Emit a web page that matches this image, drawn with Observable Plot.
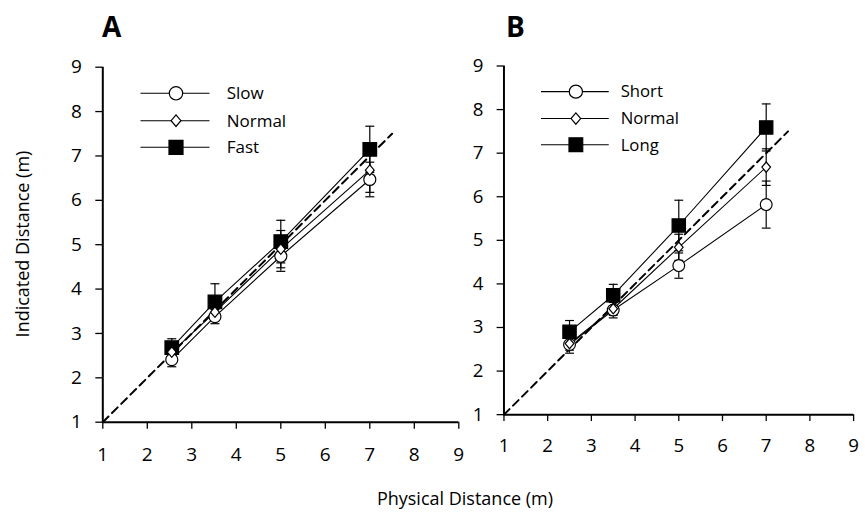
<!DOCTYPE html>
<html><head><meta charset="utf-8">
<script src="https://cdn.jsdelivr.net/npm/d3@7"></script>
<script src="https://cdn.jsdelivr.net/npm/@observablehq/plot@0.6"></script>
<style>
body{margin:0;background:#fff;overflow:hidden;font-family:"Open Sans",sans-serif;}
#chart{position:relative;width:865px;height:514px;overflow:hidden;}
.panel{position:absolute;top:0;}
.plabel{position:absolute;top:8px;font-weight:bold;font-size:28px;font-family:"Open Sans",sans-serif;color:#000;line-height:36px;}
.ylab{position:absolute;left:22px;top:244px;transform:translate(-50%,-50%) rotate(-90deg);white-space:nowrap;font-size:18px;color:#000;}
.xlab{position:absolute;left:465px;top:498px;transform:translate(-50%,-50%);white-space:nowrap;font-size:18px;color:#000;}
</style></head>
<body><div id="chart"></div>
<script>
// ---- data ----
const ticks = [1, 2, 3, 4, 5, 6, 7, 8, 9];
const identityLine = [1, 7.5];

// Panel A (speed)
const namesA = ["Slow", "Normal", "Fast"];
const xA = [2.55, 3.52, 5, 7];
const slowMean = [2.41, 3.38, 4.74, 6.47];
const slowSem = [0.16, 0.16, 0.34, 0.39];
const normalAMean = [2.58, 3.48, 4.90, 6.68];
const normalASem = [0.15, 0.15, 0.42, 0.50];
const fastMean = [2.68, 3.71, 5.07, 7.15];
const fastSem = [0.20, 0.41, 0.48, 0.52];

// Panel B (duration)
const namesB = ["Short", "Normal", "Long"];
const xB = [2.5, 3.5, 5, 7];
const shortMean = [2.61, 3.40, 4.42, 5.82];
const shortSem = [0.20, 0.18, 0.29, 0.54];
const normalBMean = [2.63, 3.43, 4.84, 6.68];
const normalBSem = [0.15, 0.15, 0.30, 0.42];
const longMean = [2.90, 3.74, 5.34, 7.59];
const longSem = [0.26, 0.25, 0.58, 0.54];

function rowsOf(names, xs, means, sems) {
  const out = [];
  names.forEach((n, i) => xs.forEach((x, j) => out.push({series: n, idx: i, x, y: means[i][j], sem: sems[i][j]})));
  return out;
}
const rowsA = rowsOf(namesA, xA, [slowMean, normalAMean, fastMean], [slowSem, normalASem, fastSem]);
const rowsB = rowsOf(namesB, xB, [shortMean, normalBMean, longMean], [shortSem, normalBSem, longSem]);

// ---- symbols ----
const capSym = {draw(ctx, size){const r = Math.sqrt(size/Math.PI); ctx.moveTo(-r,0); ctx.lineTo(r,0);}};
const circleSym = {draw(ctx, size){const r = Math.sqrt(size/Math.PI); ctx.moveTo(r,0); ctx.arc(0,0,r,0,2*Math.PI);}};
const diamondSym = {draw(ctx, size){const r = Math.sqrt(size/Math.PI); const w = r*0.85; ctx.moveTo(0,-r); ctx.lineTo(w,0); ctx.lineTo(0,r); ctx.lineTo(-w,0); ctx.closePath();}};
const squareSym = {draw(ctx, size){const r = Math.sqrt(size/Math.PI); ctx.rect(-r,-r,2*r,2*r);}};
const styles = [
  {sym: circleSym, r: 6, fill: "white"},
  {sym: diamondSym, r: 5.2, fill: "white"},
  {sym: squareSym, r: 6.8, fill: "black"}
];
const legendStyles = [
  {sym: circleSym, r: 6.7, fill: "white"},
  {sym: diamondSym, r: 5.8, fill: "white"},
  {sym: squareSym, r: 7, fill: "black"}
];

function panel(rows, names, left, textX) {
  const dotOrder = [2, 0, 1];
  const svg = Plot.plot({
    width: 470, height: 460,
    marginLeft: 102.3, marginRight: 11.7, marginTop: 66.7, marginBottom: 38.3,
    style: {fontFamily: "'Open Sans', sans-serif", fontSize: "19px", color: "#000", background: "transparent", overflow: "visible"},
    x: {domain: [1, 9]},
    y: {domain: [1, 9]},
    marks: [
      Plot.axisX({ticks, tickSize: 7, tickPadding: 18, label: null, fontSize: 19, strokeWidth: 1.3}),
      Plot.axisY({ticks, tickSize: 7, tickPadding: 14, label: null, fontSize: 19, strokeWidth: 1.3}),
      Plot.ruleX([1], {stroke: "black", strokeWidth: 2}),
      Plot.ruleY([1], {stroke: "black", strokeWidth: 2}),
      Plot.line(identityLine, {x: d => d, y: d => d, stroke: "black", strokeWidth: 2, strokeDasharray: "8,5"}),
      Plot.line(rows, {x: "x", y: "y", z: "series", stroke: "black", strokeWidth: 1.1}),
      Plot.ruleX(rows, {x: "x", y1: d => d.y - d.sem, y2: d => d.y + d.sem, stroke: "black", strokeWidth: 1.2}),
      Plot.dot(rows, {x: "x", y: d => d.y + d.sem, symbol: capSym, r: 4.5, stroke: "black", strokeWidth: 1.2, fill: "none"}),
      Plot.dot(rows, {x: "x", y: d => d.y - d.sem, symbol: capSym, r: 4.5, stroke: "black", strokeWidth: 1.2, fill: "none"}),
      ...dotOrder.map(i => Plot.dot(rows.filter(d => d.idx === i), {x: "x", y: "y", symbol: styles[i].sym, r: styles[i].r, fill: styles[i].fill, stroke: "black", strokeWidth: 1.2}))
    ]
  });
  // legend
  const g = d3.select(svg).append("g").attr("text-anchor", "start");
  const rowY = [93.3, 120.7, 147.3];
  names.forEach((n, i) => {
    const y = rowY[i];
    g.append("line").attr("x1", 140.5).attr("x2", 209.5).attr("y1", y).attr("y2", y).attr("stroke", "black").attr("stroke-width", 1.1);
    const p = d3.path(); legendStyles[i].sym.draw(p, Math.PI * legendStyles[i].r ** 2);
    g.append("path").attr("d", p.toString()).attr("transform", `translate(176,${y})`).attr("fill", legendStyles[i].fill).attr("stroke", "black").attr("stroke-width", 1.2);
    g.append("text").attr("x", textX).attr("y", y).attr("dy", "0.35em").attr("text-anchor", "start").attr("font-size", 17).attr("fill", "black").text(n);
  });
  const div = document.createElement("div");
  div.className = "panel";
  div.style.left = left + "px";
  div.appendChild(svg);
  return div;
}

const chart = document.getElementById("chart");
chart.appendChild(panel(rowsA, namesA, 0, 226.7));
chart.appendChild(panel(rowsB, namesB, 403.4, 221.6));

const la = document.createElement("div"); la.className = "plabel"; la.style.left = "102px"; la.textContent = "A"; chart.appendChild(la);
const lb = document.createElement("div"); lb.className = "plabel"; lb.style.left = "506px"; lb.textContent = "B"; chart.appendChild(lb);
const yl = document.createElement("div"); yl.className = "ylab"; yl.textContent = "Indicated Distance (m)"; chart.appendChild(yl);
const xl = document.createElement("div"); xl.className = "xlab"; xl.textContent = "Physical Distance (m)"; chart.appendChild(xl);
</script>
</body></html>
